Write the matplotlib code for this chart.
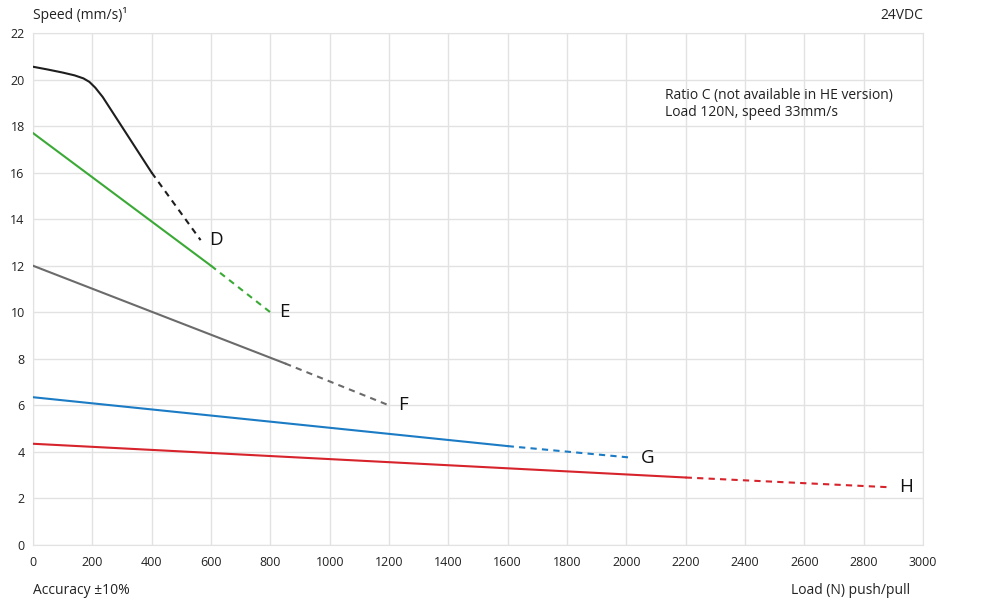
import matplotlib.pyplot as plt

plt.rcParams['font.family'] = ['Open Sans', 'DejaVu Sans']

# curve D (black)
d_load_solid = [0, 50, 100, 140, 170, 190, 210, 235, 400]
d_speed_solid = [20.55, 20.43, 20.3, 20.18, 20.05, 19.9, 19.65, 19.25, 16.0]
d_load_dash = [400, 565]
d_speed_dash = [16.0, 13.1]

# curve E (green)
e_load_solid = [0, 600]
e_speed_solid = [17.7, 12.0]
e_load_dash = [600, 800]
e_speed_dash = [12.0, 10.0]

# curve F (grey)
f_load_solid = [0, 850]
f_speed_solid = [12.0, 7.8]
f_load_dash = [850, 1200]
f_speed_dash = [7.8, 6.0]

# curve G (blue)
g_load_solid = [0, 1600]
g_speed_solid = [6.35, 4.25]
g_load_dash = [1600, 2020]
g_speed_dash = [4.25, 3.75]

# curve H (red)
h_load_solid = [0, 2200]
h_speed_solid = [4.35, 2.9]
h_load_dash = [2200, 2890]
h_speed_dash = [2.9, 2.48]

curves = [
    ('D', '#1e1e1e', d_load_solid, d_speed_solid, d_load_dash, d_speed_dash),
    ('E', '#3aa935', e_load_solid, e_speed_solid, e_load_dash, e_speed_dash),
    ('F', '#6b6b6b', f_load_solid, f_speed_solid, f_load_dash, f_speed_dash),
    ('G', '#1b7bc4', g_load_solid, g_speed_solid, g_load_dash, g_speed_dash),
    ('H', '#d7232b', h_load_solid, h_speed_solid, h_load_dash, h_speed_dash),
]

x_ticks = list(range(0, 3001, 200))
y_ticks = list(range(0, 23, 2))

fig = plt.figure(figsize=(9.99, 6.07), dpi=100)
ax = fig.add_axes([33 / 999, 1 - 545 / 607, 890 / 999, 512 / 607])

for name, col, xs, ys, xd, yd in curves:
    ax.plot(xs, ys, color=col, lw=1.5, solid_joinstyle='round', zorder=3)
    ax.plot(xd, yd, color=col, lw=1.5, ls=(0, (3, 2.5)), zorder=3)
    ax.text(xd[-1] + 30, yd[-1], name, fontsize=13.5, color='#111111',
            va='center', ha='left', fontweight='medium')

ax.set_xlim(0, 3000)
ax.set_ylim(0, 22)
ax.set_xticks(x_ticks)
ax.set_yticks(y_ticks)
ax.grid(True, color='#e2e2e2', lw=1)
ax.set_axisbelow(True)
for s in ax.spines.values():
    s.set_color('#e2e2e2')
ax.tick_params(length=0, labelsize=9, colors='#222222', pad=8)
ax.tick_params(axis='y', pad=6)

ax.text(0.0, 1.02, 'Speed (mm/s)¹', transform=ax.transAxes, fontsize=10,
        ha='left', va='bottom', color='#222222')
ax.text(1.0, 1.02, '24VDC', transform=ax.transAxes, fontsize=10,
        ha='right', va='bottom', color='#222222')
ax.text(0.0, -0.075, 'Accuracy ±10%', transform=ax.transAxes, fontsize=10,
        ha='left', va='top', color='#222222')
ax.text(0.985, -0.075, 'Load (N) push/pull', transform=ax.transAxes, fontsize=10,
        ha='right', va='top', color='#222222')
ax.text(2130, 19.65, 'Ratio C (not available in HE version)\nLoad 120N, speed 33mm/s',
        fontsize=10, ha='left', va='top', color='#222222', linespacing=1.25)

plt.savefig('out.png', dpi=100)
